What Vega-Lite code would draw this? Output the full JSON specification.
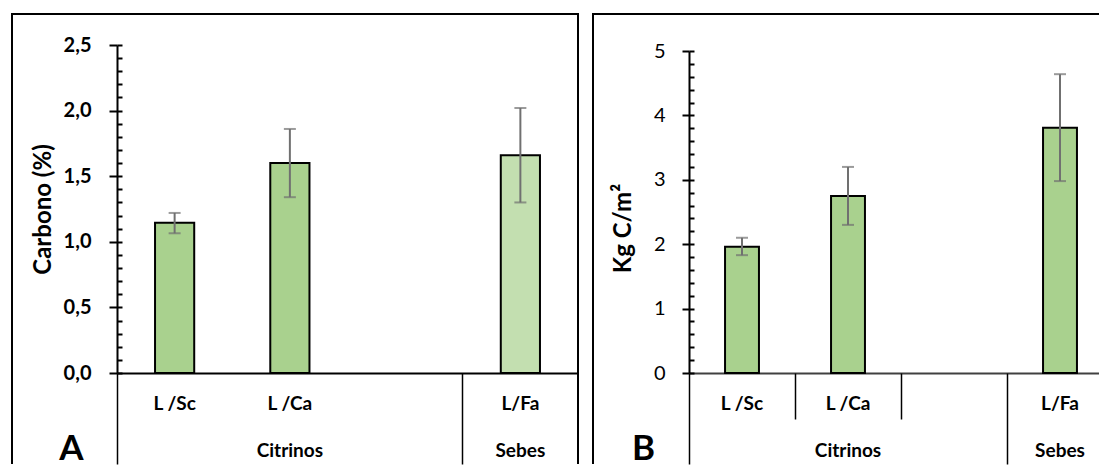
{
  "$schema": "https://vega.github.io/schema/vega-lite/v6.json",
  "padding": {"left": 11, "top": 13, "right": 0, "bottom": 0},
  "bounds": "flush",
  "spacing": 15,
  "config": {
    "font": "Lato",
    "axis": {"grid": false},
    "tick": {"orient": "horizontal"}
  },
  "hconcat": [
    {
      "width": 566,
      "height": 450,
      "view": {"stroke": "black", "strokeWidth": 2, "strokeDash": [1016, 566, 450]},
      "data": {"values": [
        {"cat": "L /Sc", "val": 1.145, "lo": 1.065, "hi": 1.22},
        {"cat": "L /Ca", "val": 1.60, "lo": 1.34, "hi": 1.86},
        {"cat": "L/Fa", "val": 1.66, "lo": 1.30, "hi": 2.02}
      ]},
      "layer": [
        {
          "mark": {"type": "bar", "width": {"band": 0.34}, "stroke": "black", "strokeWidth": 2},
          "encoding": {
            "x": {"field": "cat", "type": "nominal",
              "scale": {"domain": ["L /Sc", "L /Ca", " ", "L/Fa"], "range": [105, 566], "paddingInner": 0, "paddingOuter": 0},
              "axis": {"orient": "bottom", "offset": -91, "domain": true, "domainColor": "black", "domainWidth": 2,
                "ticks": false, "labelAngle": 0, "labelPadding": 21, "labelFontSize": 19, "labelFontWeight": "bold",
                "labelColor": "black", "labelLineHeight": 47, "labelBaseline": "top", "labelOverlap": false,
                "labelExpr": "datum.value == 'L /Ca' ? ['L /Ca', 'Citrinos'] : datum.value == 'L/Fa' ? ['L/Fa', 'Sebes'] : datum.value",
                "title": "A", "titleFontSize": 35, "titleFontWeight": "bold", "titleColor": "black",
                "titleX": 59, "titleY": 75, "titleAlign": "center", "titleBaseline": "middle"}},
            "y": {"field": "val", "type": "quantitative",
              "scale": {"domain": [0, 2.5], "range": [359, 31], "nice": false, "zero": false},
              "axis": {"orient": "left", "offset": -105, "domain": true, "domainColor": "black", "domainWidth": 2,
                "values": [0, 0.1, 0.2, 0.3, 0.4, 0.5, 0.6, 0.7, 0.8, 0.9, 1, 1.1, 1.2, 1.3, 1.4, 1.5, 1.6, 1.7, 1.8, 1.9, 2, 2.1, 2.2, 2.3, 2.4, 2.5],
                "tickSize": {"condition": {"test": "abs(datum.value * 2 - round(datum.value * 2)) < 0.001", "value": 8}, "value": -5},
                "tickWidth": 2, "tickColor": "black",
                "labelExpr": "abs(datum.value * 2 - round(datum.value * 2)) < 0.001 ? replace(format(datum.value, '.1f'), '.', ',') : ''",
                "labelFontSize": 20, "labelFontWeight": "bold", "labelOverlap": false,
                "labelColor": "black", "labelPadding": 18,
                "title": "Carbono (%)", "titleFontSize": 24, "titleFontWeight": "bold", "titleColor": "black", "titlePadding": 8}},
            "fill": {"condition": {"test": "datum.cat == 'L/Fa'", "value": "#C3DFB0"}, "value": "#A9D18E"}
          }
        },
        {
          "mark": {"type": "rule", "color": "#707070", "strokeWidth": 2},
          "encoding": {
            "x": {"field": "cat", "type": "nominal",
              "scale": {"domain": ["L /Sc", "L /Ca", " ", "L/Fa"], "range": [105, 566], "paddingInner": 0, "paddingOuter": 0},
              "axis": {"orient": "bottom", "offset": -91, "domain": false, "labels": false, "ticks": true,
                "bandPosition": 0, "values": ["L /Sc", "L/Fa"], "tickSize": 91, "tickWidth": 1.5, "tickColor": "black", "title": null}},
            "y": {"field": "hi", "type": "quantitative",
              "scale": {"domain": [0, 2.5], "range": [359, 31], "nice": false, "zero": false},
              "axis": {"orient": "left", "offset": -105, "domain": false, "labels": false,
                "values": [0, 0.5, 1, 1.5, 2, 2.5], "tickSize": -5, "tickWidth": 2, "tickColor": "black", "title": null}},
            "y2": {"field": "lo"}
          }
        },
        {
          "mark": {"type": "tick", "color": "#707070", "size": 12, "thickness": 2},
          "encoding": {
            "x": {"field": "cat", "type": "nominal",
              "scale": {"domain": ["L /Sc", "L /Ca", " ", "L/Fa"], "range": [105, 566], "paddingInner": 0, "paddingOuter": 0}, "axis": null},
            "y": {"field": "hi", "type": "quantitative",
              "scale": {"domain": [0, 2.5], "range": [359, 31], "nice": false, "zero": false}, "axis": null}
          }
        },
        {
          "mark": {"type": "tick", "color": "#707070", "size": 12, "thickness": 2},
          "encoding": {
            "x": {"field": "cat", "type": "nominal",
              "scale": {"domain": ["L /Sc", "L /Ca", " ", "L/Fa"], "range": [105, 566], "paddingInner": 0, "paddingOuter": 0}, "axis": null},
            "y": {"field": "lo", "type": "quantitative",
              "scale": {"domain": [0, 2.5], "range": [359, 31], "nice": false, "zero": false}, "axis": null}
          }
        }
      ],
      "resolve": {"axis": {"x": "independent", "y": "independent"}}
    },
    {
      "width": 520,
      "height": 450,
      "view": {"stroke": "black", "strokeWidth": 2, "strokeDash": [970, 520, 450]},
      "data": {"values": [
        {"cat": "L /Sc", "val": 1.96, "lo": 1.83, "hi": 2.10},
        {"cat": "L /Ca", "val": 2.75, "lo": 2.30, "hi": 3.20},
        {"cat": "L/Fa", "val": 3.81, "lo": 2.98, "hi": 4.64}
      ]},
      "layer": [
        {
          "mark": {"type": "bar", "width": {"band": 0.32}, "stroke": "black", "strokeWidth": 2, "fill": "#A9D18E"},
          "encoding": {
            "x": {"field": "cat", "type": "nominal",
              "scale": {"domain": ["L /Sc", "L /Ca", " ", "L/Fa"], "range": [96, 520], "paddingInner": 0, "paddingOuter": 0},
              "axis": {"orient": "bottom", "offset": -91, "domain": true, "domainColor": "#404040", "domainWidth": 2,
                "ticks": false, "labelAngle": 0, "labelPadding": 21, "labelFontSize": 19, "labelFontWeight": "bold",
                "labelColor": "black", "labelLineHeight": 47, "labelBaseline": "top", "labelOverlap": false,
                "labelExpr": "datum.value == 'L /Ca' ? ['L /Ca', 'Citrinos'] : datum.value == 'L/Fa' ? ['L/Fa', 'Sebes'] : datum.value",
                "title": "B", "titleFontSize": 35, "titleFontWeight": "bold", "titleColor": "black",
                "titleX": 50, "titleY": 75, "titleAlign": "center", "titleBaseline": "middle"}},
            "y": {"field": "val", "type": "quantitative",
              "scale": {"domain": [0, 5], "range": [359, 37], "nice": false, "zero": false},
              "axis": {"orient": "left", "offset": -96, "domain": true, "domainColor": "black", "domainWidth": 2,
                "values": [0, 0.2, 0.4, 0.6, 0.8, 1, 1.2, 1.4, 1.6, 1.8, 2, 2.2, 2.4, 2.6, 2.8, 3, 3.2, 3.4, 3.6, 3.8, 4, 4.2, 4.4, 4.6, 4.8, 5],
                "tickSize": {"condition": {"test": "abs(datum.value - round(datum.value)) < 0.001", "value": 7}, "value": -5},
                "tickWidth": 2, "tickColor": "black",
                "labelExpr": "abs(datum.value - round(datum.value)) < 0.001 ? format(datum.value, 'd') : ''",
                "labelFontSize": 20, "labelColor": "black", "labelPadding": 17, "labelOverlap": false,
                "title": "Kg C/m²", "titleFontSize": 24, "titleFontWeight": "bold", "titleColor": "black", "titlePadding": 18, "titleY": 214}}
          }
        },
        {
          "mark": {"type": "rule", "color": "#707070", "strokeWidth": 2},
          "encoding": {
            "x": {"field": "cat", "type": "nominal",
              "scale": {"domain": ["L /Sc", "L /Ca", " ", "L/Fa"], "range": [96, 520], "paddingInner": 0, "paddingOuter": 0},
              "axis": {"orient": "bottom", "offset": -91, "domain": false, "labels": false, "ticks": true,
                "bandPosition": 0, "values": ["L /Sc", "L /Ca", " ", "L/Fa"],
                "tickSize": {"condition": {"test": "datum.value == 'L /Ca' || datum.value == ' '", "value": 46}, "value": 91},
                "tickWidth": 1.5, "tickColor": "black", "title": null}},
            "y": {"field": "hi", "type": "quantitative",
              "scale": {"domain": [0, 5], "range": [359, 37], "nice": false, "zero": false},
              "axis": {"orient": "left", "offset": -96, "domain": false, "labels": false,
                "values": [0, 1, 2, 3, 4, 5], "tickSize": -5, "tickWidth": 2, "tickColor": "black", "title": null}},
            "y2": {"field": "lo"}
          }
        },
        {
          "mark": {"type": "tick", "color": "#707070", "size": 12, "thickness": 2},
          "encoding": {
            "x": {"field": "cat", "type": "nominal",
              "scale": {"domain": ["L /Sc", "L /Ca", " ", "L/Fa"], "range": [96, 520], "paddingInner": 0, "paddingOuter": 0}, "axis": null},
            "y": {"field": "hi", "type": "quantitative",
              "scale": {"domain": [0, 5], "range": [359, 37], "nice": false, "zero": false}, "axis": null}
          }
        },
        {
          "mark": {"type": "tick", "color": "#707070", "size": 12, "thickness": 2},
          "encoding": {
            "x": {"field": "cat", "type": "nominal",
              "scale": {"domain": ["L /Sc", "L /Ca", " ", "L/Fa"], "range": [96, 520], "paddingInner": 0, "paddingOuter": 0}, "axis": null},
            "y": {"field": "lo", "type": "quantitative",
              "scale": {"domain": [0, 5], "range": [359, 37], "nice": false, "zero": false}, "axis": null}
          }
        }
      ],
      "resolve": {"axis": {"x": "independent", "y": "independent"}}
    }
  ]
}
